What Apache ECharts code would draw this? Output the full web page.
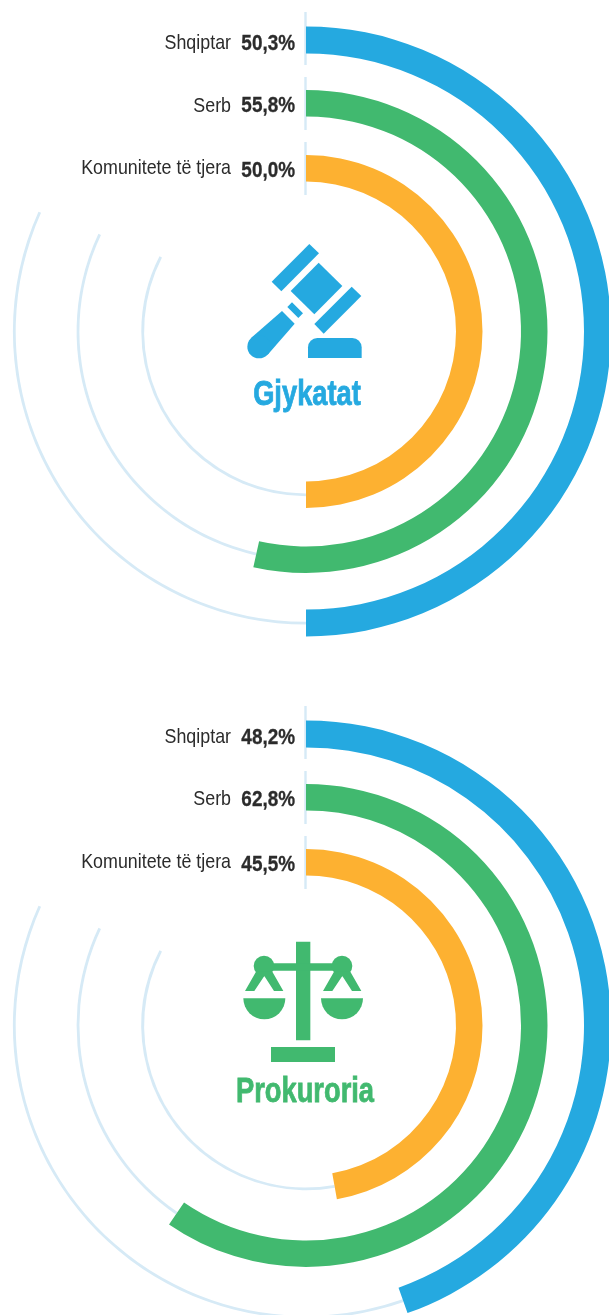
<!DOCTYPE html>
<html><head><meta charset="utf-8">
<style>html,body{margin:0;padding:0;background:#fff}#c{width:609px;height:1315px}</style>
<script src="https://cdn.jsdelivr.net/npm/echarts@6/dist/echarts.min.js"></script>
</head><body><div id="c"></div>
<script>
const groups = ['Shqiptar', 'Serb', 'Komunitete të tjera'];
const gjykatatLabels = ['50,3%', '55,8%', '50,0%'];
const prokuroriaLabels = ['48,2%', '62,8%', '45,5%'];
// Arc lengths as drawn in the picture (share of full turn, in %)
const gjykatatArcs = [50.0, 53.5, 50.0];
const prokuroriaArcs = [44.6, 59.6, 47.2];
const trackEnds = [81.7, 82.0, 82.55];
const colors = ['#25A9E0', '#41B96F', '#FDB131'];
const TRACK = '#D6EAF6';
const radii = [[278, 305], [215, 241.5], [150, 176.5]];
const trackRadii = [[290.3, 293.1], [226.6, 229.4], [161.9, 164.7]];
const CX = 306, CY = [331.5, 1025.5];
const FONT = '"Liberation Sans",sans-serif';

const series = [];
function pie(cy, radius, data) {
  series.push({type: 'pie', center: [CX, cy], radius, startAngle: 90, clockwise: true, silent: true,
    label: {show: false}, labelLine: {show: false}, animation: false, padAngle: 0,
    itemStyle: {borderWidth: 0}, data});
}
const none = {color: 'rgba(0,0,0,0)'};
[gjykatatArcs, prokuroriaArcs].forEach((arcs, c) => {
  arcs.forEach((v, i) => {
    pie(CY[c], trackRadii[i], [
      {value: v, itemStyle: none},
      {value: trackEnds[i] - v, itemStyle: {color: TRACK}},
      {value: 100 - trackEnds[i], itemStyle: none}]);
    pie(CY[c], radii[i], [
      {value: v, itemStyle: {color: colors[i]}},
      {value: 100 - v, itemStyle: none}]);
  });
});

const graphics = [];
const rowY = [[43, 106, 168], [737, 799, 862]];
const valY = [[44, 106, 171], [738, 800, 865]];
[gjykatatLabels, prokuroriaLabels].forEach((labels, c) => {
  const off = c * 694;
  [[12, 65], [77, 130], [142, 195]].forEach(([a, b]) => graphics.push({type: 'line',
    shape: {x1: 305.5, y1: a + off, x2: 305.5, y2: b + off}, style: {stroke: TRACK, lineWidth: 2.4}}));
  groups.forEach((g, i) => {
    graphics.push({type: 'text', x: 231, y: rowY[c][i], scaleX: 0.85, style: {text: g, align: 'right', verticalAlign: 'middle',
      font: '21px ' + FONT, fill: '#2b2b2b'}});
    graphics.push({type: 'text', x: 295, y: valY[c][i], scaleX: 0.86, style: {text: labels[i], align: 'right', verticalAlign: 'middle',
      font: 'bold 22px ' + FONT, fill: '#2b2b2b', stroke: '#2b2b2b', lineWidth: 0.3}});
  });
});
const poly = (pts, fill) => ({type: 'polygon', shape: {points: pts}, style: {fill}});
const gavel = colors[0], scale = colors[1];
graphics.push({type: 'group', x: 220, y: 230, scaleX: 1/3, scaleY: 1/3, children: [
  poly([[268,42],[297,70],[184,184],[155,155]], gavel),
  poly([[296,98],[367,168],[283,253],[212,183]], gavel),
  poly([[395,170],[424,198],[311,311],[283,282]], gavel),
  poly([[216,217],[249,250],[235,264],[202,231]], gavel),
  poly([[186,243],[224,281],[143,374],[93,324]], gavel),
  {type: 'circle', shape: {cx: 117, cy: 350, r: 35}, style: {fill: gavel}},
  {type: 'rect', shape: {x: 264, y: 324, width: 161, height: 60, r: [28, 28, 0, 0]}, style: {fill: gavel}}
]});
graphics.push({type: 'group', x: 220, y: 930, scaleX: 1/3, scaleY: 1/3, children: [
  {type: 'rect', shape: {x: 228, y: 35, width: 43, height: 296}, style: {fill: scale}},
  {type: 'rect', shape: {x: 130, y: 100, width: 240, height: 22}, style: {fill: scale}},
  {type: 'circle', shape: {cx: 132, cy: 108, r: 31}, style: {fill: scale}},
  {type: 'circle', shape: {cx: 366, cy: 108, r: 31}, style: {fill: scale}},
  poly([[108,125],[75,183],[103,183],[133,138],[162,183],[190,183],[157,125]], scale),
  poly([[342,125],[309,183],[337,183],[367,138],[396,183],[424,183],[391,125]], scale),
  {type: 'sector', shape: {cx: 133, cy: 205, r0: 0, r: 63, startAngle: 0, endAngle: Math.PI, clockwise: true}, style: {fill: scale}},
  {type: 'sector', shape: {cx: 366, cy: 205, r0: 0, r: 63, startAngle: 0, endAngle: Math.PI, clockwise: true}, style: {fill: scale}},
  {type: 'rect', shape: {x: 153, y: 351, width: 192, height: 45}, style: {fill: scale}}
]});
graphics.push({type: 'text', x: 307, y: 395, scaleX: 0.78, style: {text: 'Gjykatat', align: 'center', verticalAlign: 'middle',
  font: 'bold 35px ' + FONT, fill: colors[0], stroke: colors[0], lineWidth: 0.8}});
graphics.push({type: 'text', x: 305, y: 1092.5, scaleX: 0.78, style: {text: 'Prokuroria', align: 'center', verticalAlign: 'middle',
  font: 'bold 35px ' + FONT, fill: colors[1], stroke: colors[1], lineWidth: 0.8}});

const chart = echarts.init(document.getElementById('c'), null, {renderer: 'canvas'});
chart.setOption({animation: false, backgroundColor: '#fff', series, graphic: {elements: graphics}});
</script></body></html>
